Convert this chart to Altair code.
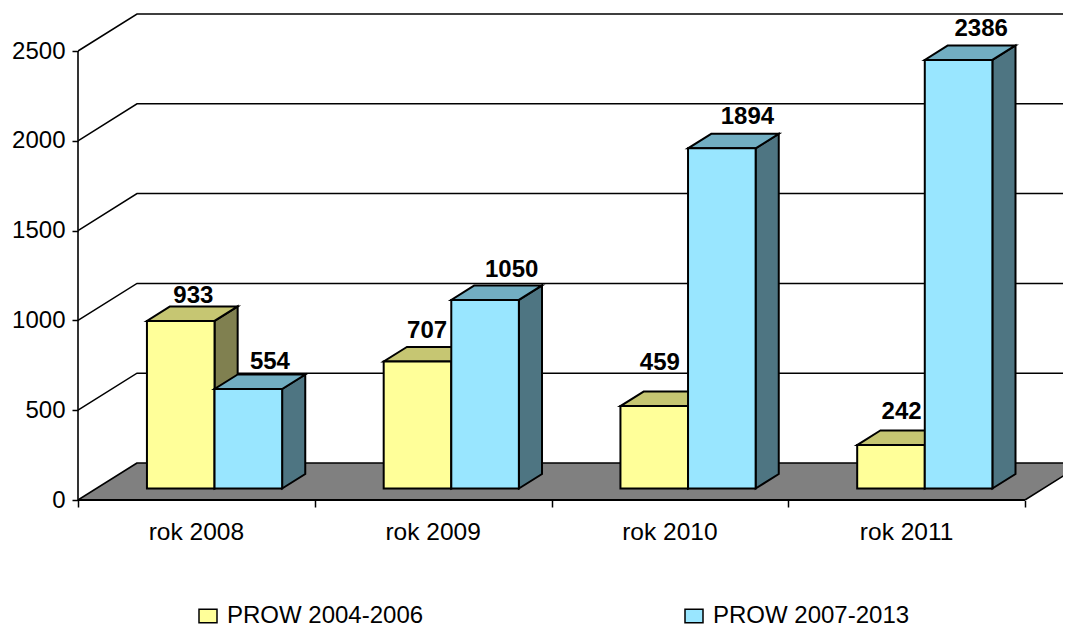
import altair as alt
import pandas as pd

categories = ["rok 2008", "rok 2009", "rok 2010", "rok 2011"]
series_names = ["PROW 2004-2006", "PROW 2007-2013"]
values_a = [933, 707, 459, 242]
values_b = [554, 1050, 1894, 2386]
y_ticks = [0, 500, 1000, 1500, 2000, 2500]

FONT = "Liberation Sans"
PX_X = 236.75            # pixels per category
PX_Y = 449 / 2500        # pixels per value unit
DEPTH_X = 59 / PX_X      # chart depth, in category units
DEPTH_Y = 37 / PX_Y      # chart depth, in value units
BAR_FRONT, BAR_BACK = 0.311, 0.703
BAR_GAP, BAR_W = 0.2137, 0.2855
W, H = 985, 492
XDOM = [0, W / PX_X]
YDOM = [0, H / PX_Y]

faces = {
    0: dict(front="#FFFF99", top="#C6C672", side="#808050"),
    1: dict(front="#99E6FF", top="#72AEC2", side="#4E7582"),
}
# label nudges per series and category (dx, dy) in screen units
label_nudge = {
    0: [(1, -3), (-2, -9), (-6, -22), (-1, -12)],
    1: [(10, -5), (15, -8), (14, -10), (11, -9)],
}

xs = alt.Scale(domain=XDOM, nice=False, zero=False)
ys = alt.Scale(domain=YDOM, nice=False, zero=False)
x_axis = alt.Axis(values=[0, 1, 2, 3, 4], labels=False, domain=False, grid=False, tickSize=7,
                  tickColor="black", tickWidth=1.5, title=None)
y_axis = alt.Axis(values=y_ticks, domain=False, grid=False, tickSize=6, tickColor="black", tickWidth=1.5,
                  labelFontSize=24, labelFont=FONT, labelColor="black", labelPadding=7,
                  format="d", title=None)
X = alt.X("x:Q", scale=xs, axis=x_axis)
Y = alt.Y("y:Q", scale=ys, axis=y_axis)
X2 = alt.X2("x2:Q")
Y2 = alt.Y2("y2:Q")
color_enc = alt.Color(
    "series:N",
    scale=alt.Scale(domain=series_names, range=[faces[0]["front"], faces[1]["front"]]),
    legend=alt.Legend(
        title=None, orient="none", legendX=118, legendY=596, columns=2, columnPadding=258,
        padding=0, symbolType="M-1,-0.75L1,-0.75L1,0.75L-1,0.75Z", symbolSize=324,
        symbolStrokeColor="black",
        symbolStrokeWidth=1.5, labelFontSize=24, labelFont=FONT, labelColor="black",
        labelOffset=7, labelLimit=400, rowPadding=0,
    ),
)

def px(c, d):
    return c + d * DEPTH_X

def py(v, d):
    return v + d * DEPTH_Y

layers = []

# floor
floor = pd.DataFrame({"y": [0, py(0, 1)], "x": [0, px(0, 1)], "x2": [4, px(4, 1)]})
layers.append(alt.Chart(floor).mark_area(orient="horizontal", fill="#808080", stroke="black",
                                         strokeWidth=1.6, clip=True).encode(x=X, x2=X2, y=Y))

# walls' gridlines
grid_rows = []
for v in y_ticks[1:]:
    grid_rows += [
        {"g": v, "x": 0, "y": v},
        {"g": v, "x": px(0, 1), "y": py(v, 1)},
        {"g": v, "x": XDOM[1] + 0.5, "y": py(v, 1)},
    ]
layers.append(alt.Chart(pd.DataFrame(grid_rows)).mark_line(color="black", strokeWidth=1.5, clip=True)
              .encode(x=X, y=Y, detail="g:N"))

# bars
text_layers = []
for s, vals in enumerate([values_a, values_b]):
    for i, v in enumerate(vals):
        left = i + BAR_GAP + s * BAR_W
        right = left + BAR_W
        f = faces[s]
        # side face
        side = pd.DataFrame({
            "x": [px(right, BAR_FRONT), px(right, BAR_BACK)],
            "y": [py(0, BAR_FRONT), py(0, BAR_BACK)],
            "y2": [py(v, BAR_FRONT), py(v, BAR_BACK)],
        })
        layers.append(alt.Chart(side).mark_area(orient="vertical", fill=f["side"], stroke="black",
                                                strokeWidth=2).encode(x=X, y=Y, y2=Y2))
        # top face
        top = pd.DataFrame({
            "y": [py(v, BAR_FRONT), py(v, BAR_BACK)],
            "x": [px(left, BAR_FRONT), px(left, BAR_BACK)],
            "x2": [px(right, BAR_FRONT), px(right, BAR_BACK)],
        })
        layers.append(alt.Chart(top).mark_area(orient="horizontal", fill=f["top"], stroke="black",
                                               strokeWidth=2).encode(x=X, x2=X2, y=Y))
        # front face
        front = pd.DataFrame({
            "x": [px(left, BAR_FRONT)], "x2": [px(right, BAR_FRONT)],
            "y": [py(0, BAR_FRONT)], "y2": [py(v, BAR_FRONT)],
            "series": [series_names[s]],
        })
        layers.append(alt.Chart(front).mark_rect(stroke="black", strokeWidth=2, opacity=1)
                      .encode(x=X, x2=X2, y=Y, y2=Y2, color=color_enc))
        # value label
        dx, dy = label_nudge[s][i]
        lab = pd.DataFrame({
            "x": [px((left + right) / 2, BAR_BACK - (BAR_BACK - BAR_FRONT) / 2)],
            "y": [py(v, BAR_BACK)], "t": [str(v)],
        })
        text_layers.append(alt.Chart(lab).mark_text(
            font=FONT, fontSize=24, fontWeight="bold", color="black", baseline="alphabetic",
            align="center", dx=dx, dy=dy).encode(x=X, y=Y, text="t:N"))

# axis lines
layers.append(alt.Chart(pd.DataFrame({"x": [0], "y": [0], "y2": [2500]})).mark_rule(
    color="black", strokeWidth=1.6).encode(x=X, y=Y, y2=Y2))
layers.append(alt.Chart(pd.DataFrame({"x": [0], "x2": [4], "y": [0]})).mark_rule(
    color="black", strokeWidth=2).encode(x=X, x2=X2, y=Y))

# category labels
cats = pd.DataFrame({"x": [i + 0.5 for i in range(4)], "y": [0] * 4, "t": categories})
layers.append(alt.Chart(cats).mark_text(
    font=FONT, fontSize=24.5, color="black", baseline="alphabetic", align="center", dy=40)
    .encode(x=X, y=Y, text="t:N"))

chart = alt.layer(*layers, *text_layers).properties(
    width=W, height=H,
    padding={"left": 70, "top": 0, "right": 0, "bottom": 124},
    autosize=alt.AutoSizeParams(type="none"),
    background="white",
).configure_view(stroke=None)

chart.save("out.html", embed_options={"renderer": "svg", "actions": False})
